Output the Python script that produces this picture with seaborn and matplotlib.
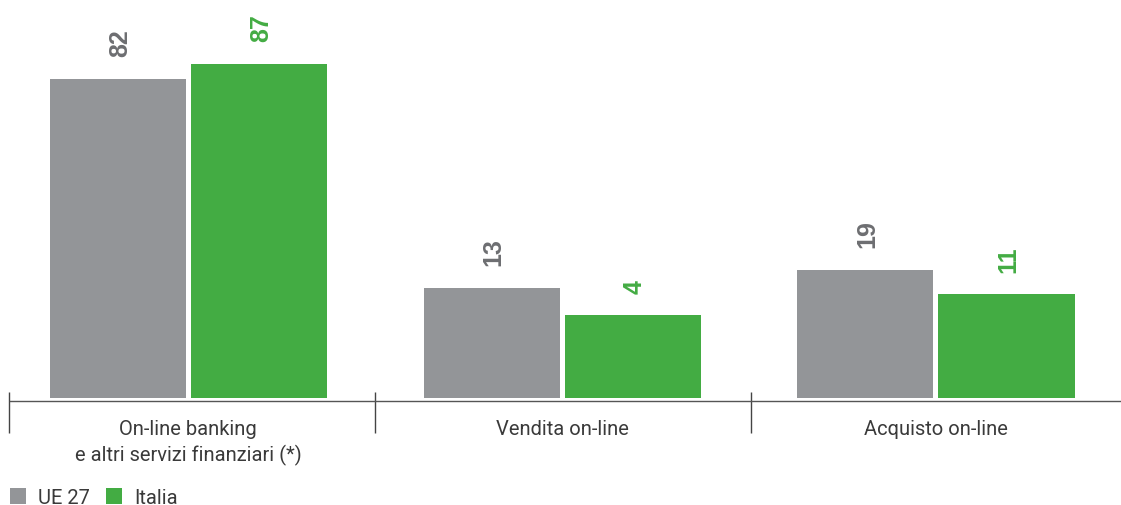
import matplotlib
matplotlib.use("Agg")
import matplotlib.pyplot as plt
from matplotlib.patches import Patch
import pandas as pd
import seaborn as sns

categories = ["On-line banking\ne altri servizi finanziari (*)", "Vendita on-line", "Acquisto on-line"]
series_names = ["UE 27", "Italia"]
ue27 = [82, 13, 19]
italia = [87, 4, 11]

bar_colors = {"UE 27": "#939598", "Italia": "#43ac43"}
label_colors = {"UE 27": "#6d6e71", "Italia": "#43ac43"}

df = pd.DataFrame({
    "categoria": categories * 2,
    "serie": ["UE 27"] * 3 + ["Italia"] * 3,
    "valore": ue27 + italia,
})

sns.set_theme(style="white")
plt.rcParams["font.family"] = ["Liberation Sans", "DejaVu Sans"]
text_font = ["Roboto", "Liberation Sans", "DejaVu Sans"]

fig = plt.figure(figsize=(11.21, 5.06), dpi=100)
ax = fig.add_axes([10 / 1121, 104 / 506, 1111 / 1121, 402 / 506])

base = -23.4
sns.barplot(data=df, x="categoria", y="valore", hue="serie", order=categories,
            hue_order=series_names, palette=bar_colors, width=0.7545, gap=0.035,
            saturation=1, linewidth=0, ax=ax, legend=False)

ax.set_ylim(-24.4, 108.3)
ax.set_xlim(-0.477, 2.495)

# bars rise from the common baseline below zero
for patch in ax.patches:
    top = patch.get_height()
    patch.set_y(base)
    patch.set_height(top - base)

# value labels, rotated, above each bar
bars = list(ax.patches)
values = ue27 + italia
hues = ["UE 27"] * 3 + ["Italia"] * 3
for patch, v, h in zip(bars, values, hues):
    cx = patch.get_x() + patch.get_width() / 2
    ax.annotate(str(v), xy=(cx, v), xytext=(1.5, 16), textcoords="offset points",
                rotation=90, ha="center", va="bottom", fontsize=18,
                fontweight="bold", color=label_colors[h])

for side in ["top", "right", "left"]:
    ax.spines[side].set_visible(False)
ax.spines["bottom"].set_color("#555555")
ax.spines["bottom"].set_linewidth(1.0)
ax.set_yticks([])
ax.set_xlabel("")
ax.set_ylabel("")
ax.tick_params(axis="x", length=0, pad=13, labelsize=14.5, labelcolor="#3a3a3a")
for lbl in ax.get_xticklabels():
    lbl.set_linespacing(1.35)
    lbl.set_va("top")
    lbl.set_family(text_font)

ax.vlines([-0.48, 0.5, 1.505], -35.0, -21.4, colors="#444444", linewidth=1.0,
          clip_on=False)

handles = [Patch(facecolor=bar_colors[n], edgecolor="none", label=n) for n in series_names]
leg = fig.legend(handles=handles, loc="lower left", bbox_to_anchor=(10 / 1121, -2 / 506),
                 ncol=2, frameon=False, handlelength=0.8,
                 handleheight=0.8, handletextpad=0.6, columnspacing=0.8,
                 borderpad=0, borderaxespad=0, labelcolor="#3a3a3a",
                 prop={"family": text_font, "size": 14.5})

fig.savefig("out.png", dpi=100)
